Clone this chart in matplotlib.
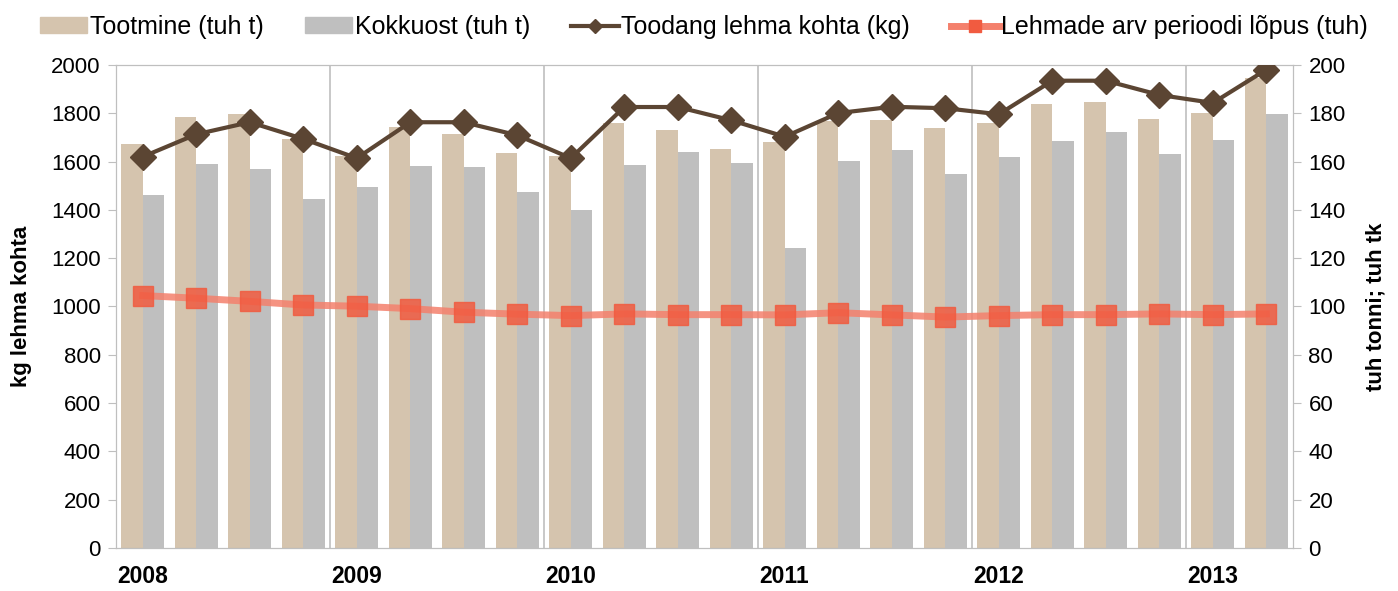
import numpy as np
import matplotlib.pyplot as plt
from matplotlib.patches import Patch
from matplotlib.lines import Line2D

plt.rcParams['font.family'] = ['Liberation Sans', 'DejaVu Sans']

# ====================== ANDMED ======================
years = ['2008', '2009', '2010', '2011', '2012', '2013']
quarters_per_year = [4, 4, 4, 4, 4, 2]

# tuh t
tootmine = [167.4, 178.6, 179.6, 169.2,
            162.4, 174.5, 171.4, 163.4,
            162.4, 176.1, 173.1, 165.2,
            168.0, 176.9, 177.4, 173.9,
            175.9, 183.9, 184.7, 177.8,
            180.0, 194.5]
kokkuost = [146.3, 158.9, 156.9, 144.5,
            149.6, 158.2, 157.9, 147.3,
            139.8, 158.6, 164.1, 159.3,
            124.3, 160.4, 164.8, 154.9,
            161.8, 168.7, 172.4, 163.0,
            169.1, 179.8]
# kg lehma kohta
toodang = [1620, 1713, 1763, 1694,
           1614, 1763, 1763, 1709,
           1614, 1826, 1826, 1771,
           1703, 1801, 1827, 1821,
           1796, 1935, 1935, 1876,
           1843, 1981]
# tuh
lehmad = [104.5, 103.4, 102.1, 100.6,
          100.1, 99.1, 97.6, 96.8,
          96.2, 96.9, 96.6, 96.6,
          96.5, 97.4, 96.5, 95.6,
          96.2, 96.6, 96.6, 96.9,
          96.6, 96.9]

# ====================== VÄRVID ======================
c_tan = '#D5C4AE'
c_gray = '#BFBFBF'
c_brown = '#5B4533'
c_salmon = '#F4806C'
c_red = '#F15B40'
c_axis = '#BFBFBF'
FS = 16

x = np.arange(len(tootmine))

fig = plt.figure(figsize=(13.98, 5.91), dpi=100)
ax = fig.add_axes([0.083, 0.073, 0.842, 0.817])  # parem telg: tuh t
ax2 = ax.twinx()                                  # vasak telg: kg

ax.bar(x - 0.4, tootmine, width=0.4, align='edge', color=c_tan, zorder=2)
ax.bar(x, kokkuost, width=0.4, align='edge', color=c_gray, zorder=2)
ax.plot(x, lehmad, color=c_salmon, lw=5, alpha=0.85, zorder=3,
        marker='s', ms=15, mfc=c_red, mec=c_red)
ax2.plot(x, toodang, color=c_brown, lw=3, marker='D', ms=13,
         mfc=c_brown, mec=c_brown, zorder=4)

ax.set_xlim(-0.5, len(x) - 0.5)
ax.set_ylim(0, 200)
ax2.set_ylim(0, 2000)
ax.set_yticks(np.arange(0, 201, 20))
ax2.set_yticks(np.arange(0, 2001, 200))

# teljed vahetatakse: tulpade telg paremale, kg telg vasakule
ax.yaxis.tick_right()
ax.yaxis.set_label_position('right')
ax2.yaxis.tick_left()
ax2.yaxis.set_label_position('left')

ax.set_ylabel('tuh tonni; tuh tk', fontsize=FS, fontweight='bold', labelpad=14)
ax2.set_ylabel('kg lehma kohta', fontsize=FS, fontweight='bold', labelpad=14)

for a in (ax, ax2):
    for s in a.spines.values():
        s.set_color(c_axis)
    a.tick_params(axis='y', labelsize=FS, color=c_axis, length=6, direction='out', pad=5)
ax.set_xticks([])
ax2.set_xticks([])

# aastate eraldusjooned ja sildid
starts = np.cumsum([0] + quarters_per_year[:-1]) - 0.5
for s, yr in zip(starts, years):
    if s > -0.5:
        ax.axvline(s, color=c_axis, lw=1.2, zorder=1)
    ax.text(s + 0.03, -0.035, yr, transform=ax.get_xaxis_transform(),
            ha='left', va='top', fontsize=FS + 0.5, fontweight='bold')

handles = [
    Patch(color=c_tan, label='Tootmine (tuh t)'),
    Patch(color=c_gray, label='Kokkuost (tuh t)'),
    Line2D([], [], color=c_brown, lw=3, marker='D', ms=7, label='Toodang lehma kohta (kg)'),
    Line2D([], [], color=c_salmon, lw=5, marker='s', ms=9, mfc=c_red, mec=c_red,
           label='Lehmade arv perioodi lõpus (tuh)'),
]
fig.legend(handles=handles, loc='upper left', bbox_to_anchor=(0.0125, 1.013), ncol=4,
           frameon=False, fontsize=18, handlelength=1.9, handleheight=0.55,
           handletextpad=0.1, columnspacing=1.65)

fig.savefig('out.png', dpi=100)
